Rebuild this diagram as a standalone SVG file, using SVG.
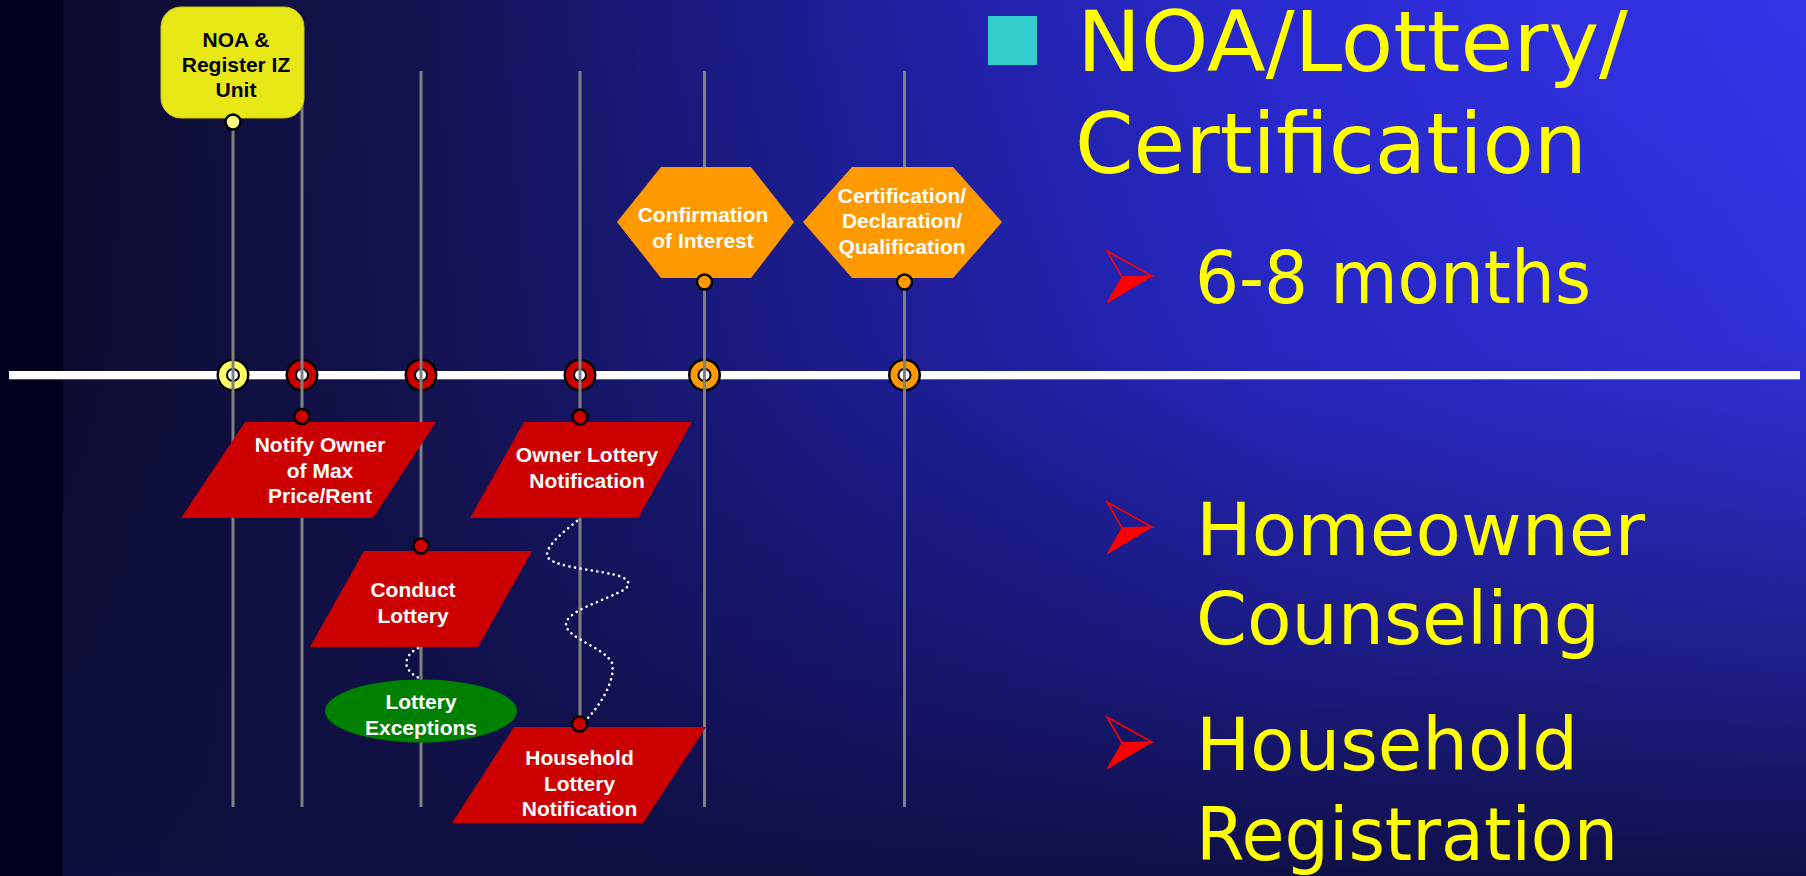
<svg xmlns="http://www.w3.org/2000/svg" width="1806" height="876" viewBox="0 0 1806 876">
  <defs>
    <linearGradient id="bgH" x1="63" y1="0" x2="1806" y2="0" gradientUnits="userSpaceOnUse">
      <stop offset="0" stop-color="#0c0c2e"/>
      <stop offset="0.2" stop-color="#131350"/>
      <stop offset="0.45" stop-color="#1e1e9a"/>
      <stop offset="0.7" stop-color="#2a2ad2"/>
      <stop offset="1" stop-color="#3434ea"/>
    </linearGradient>
    <linearGradient id="bgV" x1="0" y1="0" x2="0" y2="876" gradientUnits="userSpaceOnUse">
      <stop offset="0" stop-color="#0e0e40" stop-opacity="0"/>
      <stop offset="0.4" stop-color="#0e0e40" stop-opacity="0.12"/>
      <stop offset="0.75" stop-color="#0e0e40" stop-opacity="0.55"/>
      <stop offset="1" stop-color="#0e0e40" stop-opacity="0.95"/>
    </linearGradient>
    <g id="arrowBullet">
      <polygon points="1107,251 1152,276 1122,277" fill="none" stroke="#ff0000" stroke-width="1.6" stroke-linejoin="miter"/>
      <polygon points="1122,277 1152,276 1107,303" fill="#ff0000" stroke="#ff0000" stroke-width="1"/>
    </g>
  </defs>
  <style>
    .vline { stroke: #808080; stroke-width: 3; }
    .node-text { font-family: "Liberation Sans", Arial, sans-serif; font-weight: bold; font-size: 21px; text-anchor: middle; fill: #ffffff; }
    .dark-text { fill: #000000; }
    .red { fill: #cc0000; }
    .orange { fill: #ff9900; }
    .dot { stroke: #000000; stroke-width: 2.5; }
    .dotted { fill: none; stroke: #ffffff; stroke-width: 2.6; stroke-dasharray: 0.1 5.5; stroke-linecap: round; }
    .big { font-family: "DejaVu Sans", "Liberation Sans", sans-serif; fill: #ffff00; }
  </style>

  <!-- background -->
  <rect x="0" y="0" width="1806" height="876" fill="url(#bgH)"/>
  <rect x="0" y="0" width="1806" height="876" fill="url(#bgV)"/>
  <rect x="0" y="0" width="63" height="876" fill="#00001f"/>

  <!-- timeline axis -->
  <g id="timeline">
    <rect x="9" y="371" width="1791" height="8.3" fill="#ffffff"/>
    <g id="marker-1">
      <circle cx="233" cy="375" r="16.5" fill="#000"/>
      <circle cx="233" cy="375" r="14" fill="#ffff66"/>
      <circle cx="233" cy="375" r="7" fill="#000"/>
      <circle cx="233" cy="375" r="5" fill="#fff"/>
    </g>
    <g id="marker-2">
      <circle cx="302" cy="375" r="16.5" fill="#000"/>
      <circle cx="302" cy="375" r="14" fill="#cc0000"/>
      <circle cx="302" cy="375" r="7" fill="#000"/>
      <circle cx="302" cy="375" r="5" fill="#fff"/>
    </g>
    <g id="marker-3">
      <circle cx="421" cy="375" r="16.5" fill="#000"/>
      <circle cx="421" cy="375" r="14" fill="#cc0000"/>
      <circle cx="421" cy="375" r="7" fill="#000"/>
      <circle cx="421" cy="375" r="5" fill="#fff"/>
    </g>
    <g id="marker-4">
      <circle cx="580" cy="375" r="16.5" fill="#000"/>
      <circle cx="580" cy="375" r="14" fill="#cc0000"/>
      <circle cx="580" cy="375" r="7" fill="#000"/>
      <circle cx="580" cy="375" r="5" fill="#fff"/>
    </g>
    <g id="marker-5">
      <circle cx="704.5" cy="375" r="16.5" fill="#000"/>
      <circle cx="704.5" cy="375" r="14" fill="#ff9900"/>
      <circle cx="704.5" cy="375" r="7" fill="#000"/>
      <circle cx="704.5" cy="375" r="5" fill="#fff"/>
    </g>
    <g id="marker-6">
      <circle cx="904.5" cy="375" r="16.5" fill="#000"/>
      <circle cx="904.5" cy="375" r="14" fill="#ff9900"/>
      <circle cx="904.5" cy="375" r="7" fill="#000"/>
      <circle cx="904.5" cy="375" r="5" fill="#fff"/>
    </g>
  </g>

  <!-- connectors: vertical lines and dotted links -->
  <g id="connectors">
    <line class="vline" x1="233" y1="122" x2="233" y2="807"/>
    <line class="vline" x1="302" y1="71" x2="302" y2="807"/>
    <line class="vline" x1="421" y1="71" x2="421" y2="807"/>
    <line class="vline" x1="580" y1="71" x2="580" y2="807"/>
    <line class="vline" x1="704.5" y1="71" x2="704.5" y2="807"/>
    <line class="vline" x1="904.5" y1="71" x2="904.5" y2="807"/>
  </g>

  <!-- nodes -->
  <g id="node-noa">
    <rect x="161" y="7" width="143" height="111" rx="20" ry="20" fill="#e8e817" stroke="#c8c810" stroke-width="1"/>
    <text class="node-text dark-text" x="236" y="47">NOA &amp;</text>
    <text class="node-text dark-text" x="236" y="72">Register IZ</text>
    <text class="node-text dark-text" x="236" y="97">Unit</text>
  </g>

  <g id="node-confirmation">
    <polygon class="orange" points="661,167 751,167 794,222 751,278 661,278 617,222"/>
    <text class="node-text" x="703" y="222">Confirmation</text>
    <text class="node-text" x="703" y="248">of Interest</text>
  </g>

  <g id="node-certification">
    <polygon class="orange" points="852,167 953,167 1002,222 953,278 852,278 803,222"/>
    <text class="node-text" x="902" y="203">Certification/</text>
    <text class="node-text" x="902" y="228">Declaration/</text>
    <text class="node-text" x="902" y="254">Qualification</text>
  </g>

  <g id="node-notify-owner">
    <polygon class="red" points="245,422 436,422 373,518 181,518"/>
    <text class="node-text" x="320" y="452">Notify Owner</text>
    <text class="node-text" x="320" y="478">of Max</text>
    <text class="node-text" x="320" y="503">Price/Rent</text>
  </g>

  <g id="node-owner-lottery">
    <polygon class="red" points="524,422 692,422 638,518 470,518"/>
    <text class="node-text" x="587" y="462">Owner Lottery</text>
    <text class="node-text" x="587" y="488">Notification</text>
  </g>

  <g id="node-conduct-lottery">
    <polygon class="red" points="364,551 532,551 478,647 310,647"/>
    <text class="node-text" x="413" y="597">Conduct</text>
    <text class="node-text" x="413" y="623">Lottery</text>
  </g>

  <g id="node-lottery-exceptions">
    <ellipse cx="421" cy="711" rx="96" ry="31.5" fill="#008000"/>
    <text class="node-text" x="421" y="709">Lottery</text>
    <text class="node-text" x="421" y="735">Exceptions</text>
  </g>

  <g id="node-household-lottery">
    <polygon class="red" points="514,727 706,727 643,823 452,823"/>
    <text class="node-text" x="579.5" y="765">Household</text>
    <text class="node-text" x="579.5" y="791">Lottery</text>
    <text class="node-text" x="579.5" y="816">Notification</text>
  </g>

  <!-- attachment dots and dotted links -->
  <g id="links">
    <path class="dotted" d="M418,648 C403,656 401,670 421,679"/>
    <path class="dotted" d="M577,521 C562,533 547,545 547,555 C548,568 605,570 622,577 C634,583 628,589 615,594 C600,602 565,612 566,625 C567,638 605,648 612,663 C616,680 600,705 588,718"/>
    <circle class="dot" cx="233" cy="122" r="7.5" fill="#ffff80"/>
    <circle class="dot" cx="302" cy="416.5" r="7.5" fill="#cc0000"/>
    <circle class="dot" cx="580" cy="417" r="7.5" fill="#cc0000"/>
    <circle class="dot" cx="421" cy="546" r="7.5" fill="#cc0000"/>
    <circle class="dot" cx="579.5" cy="724" r="7.5" fill="#cc0000"/>
    <circle class="dot" cx="704.5" cy="282" r="7.5" fill="#ff9900"/>
    <circle class="dot" cx="904.5" cy="282" r="7.5" fill="#ff9900"/>
  </g>

  <!-- right-hand bullet text -->
  <g id="bullets">
    <rect x="988" y="16" width="49" height="49" fill="#33cccc"/>
    <text class="big" x="1077" y="71" font-size="84" textLength="551" lengthAdjust="spacingAndGlyphs">NOA/Lottery/</text>
    <text class="big" x="1075" y="173" font-size="84" textLength="512" lengthAdjust="spacingAndGlyphs">Certification</text>

    <use href="#arrowBullet"/>
    <text class="big" x="1195" y="303" font-size="73" textLength="396" lengthAdjust="spacingAndGlyphs">6-8 months</text>

    <use href="#arrowBullet" transform="translate(0,251)"/>
    <text class="big" x="1196" y="555" font-size="73" textLength="449" lengthAdjust="spacingAndGlyphs">Homeowner</text>
    <text class="big" x="1196" y="644" font-size="73" textLength="404" lengthAdjust="spacingAndGlyphs">Counseling</text>

    <use href="#arrowBullet" transform="translate(0,466)"/>
    <text class="big" x="1196" y="770" font-size="73" textLength="382" lengthAdjust="spacingAndGlyphs">Household</text>
    <text class="big" x="1196" y="860" font-size="73" textLength="422" lengthAdjust="spacingAndGlyphs">Registration</text>
  </g>
</svg>
